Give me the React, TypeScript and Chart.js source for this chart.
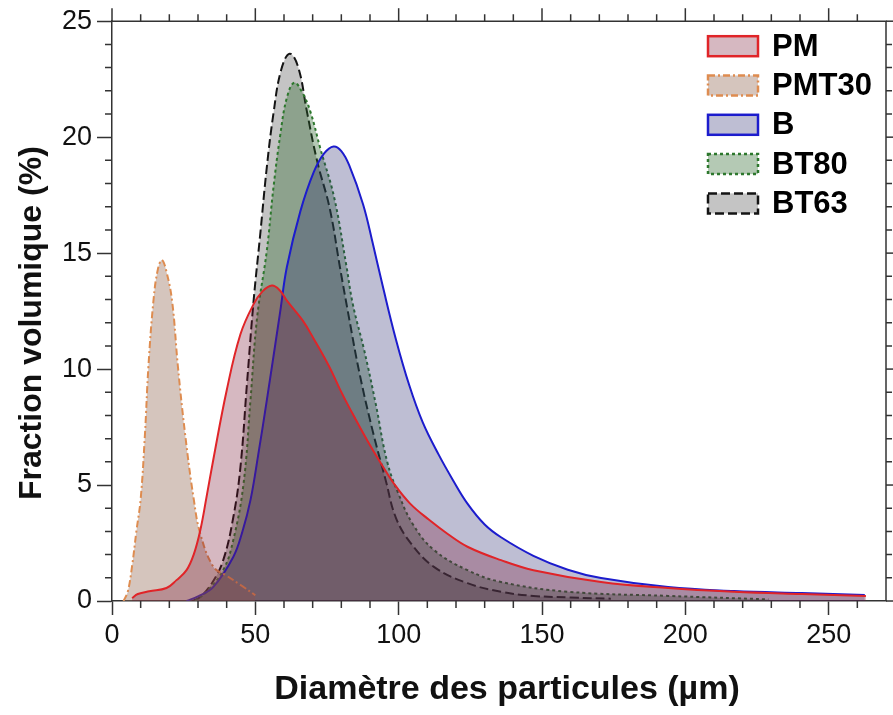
import React, { useEffect, useRef } from "react";
import { Chart, registerables } from "chart.js";

Chart.register(...registerables);

// ---------- data ----------
const seriesNames = ["PM", "PMT30", "B", "BT80", "BT63"];

const pmX = [7, 9, 13, 19, 22.5, 26, 28.5, 30.8, 33, 35.3, 40, 44.8, 49.4, 52.5, 55.8, 58.5, 61, 66.5, 70.4, 75.8, 79.7, 82.7, 89, 94, 99, 104, 110.6, 117, 124, 135.7, 147, 170.6, 194, 217, 240.6, 263];
const pmY = [0.13, 0.3, 0.42, 0.56, 0.9, 1.33, 2.0, 3.05, 4.5, 6.07, 9.08, 11.5, 12.8, 13.35, 13.6, 13.4, 12.95, 12.1, 11.3, 10.1, 9.08, 8.36, 6.93, 5.9, 4.95, 4.2, 3.5, 2.9, 2.34, 1.76, 1.33, 0.82, 0.56, 0.4, 0.3, 0.22];

const pmt30X = [4, 5.5, 7, 8.5, 10, 11.5, 12.7, 14.5, 16, 17.4, 19, 21, 23, 25.5, 28.5, 30.8, 35.4, 40, 45, 50];
const pmt30Y = [0, 0.4, 1.5, 3, 4.4, 7.2, 10.1, 13, 14.3, 14.7, 14.2, 12.9, 10.1, 7.2, 4.4, 2.9, 1.47, 1.09, 0.68, 0.25];

const bX = [26, 30, 35.3, 42.3, 45.5, 48.3, 51, 54, 58.7, 61, 65.7, 70.4, 74, 77.3, 80, 82.7, 87.6, 91, 94.4, 99, 103.7, 108.4, 114, 119, 124, 130, 135.7, 147, 159, 170.6, 194, 217, 240.6, 262.6];
const bY = [0, 0.2, 0.6, 1.9, 3.0, 4.35, 6.3, 8.65, 12.5, 14.4, 16.8, 18.5, 19.3, 19.6, 19.4, 18.8, 17.1, 15.4, 13.6, 11.3, 9.3, 7.7, 6.3, 5.2, 4.2, 3.3, 2.75, 1.95, 1.35, 0.99, 0.6, 0.43, 0.34, 0.26];

const bt80X = [29, 33, 38.8, 42.3, 45.9, 48.3, 50.6, 54, 56.3, 58.7, 61, 63.6, 66.5, 69.2, 72.7, 77.5, 81.7, 84, 88, 92, 96, 100, 105, 112.3, 124, 135.7, 159, 194, 229];
const bt80Y = [0, 0.4, 1.33, 2.62, 5.07, 8.65, 12.2, 15.1, 17.8, 20.1, 21.7, 22.35, 21.9, 21.1, 19.5, 17.4, 14.5, 12.8, 10.8, 8.5, 6.0, 4.6, 3.3, 2.2, 1.33, 0.82, 0.4, 0.22, 0.07];

const bt63X = [28, 30.8, 35, 38.8, 42.3, 44.8, 47.1, 49.4, 51.7, 54, 56.3, 59, 62, 65, 68, 71.5, 76, 79.5, 82.7, 86.2, 90.8, 95.5, 99, 104.2, 112.3, 124, 135.7, 147, 160, 174];
const bt63Y = [0, 0.17, 0.8, 1.76, 3.6, 5.77, 9.4, 12.95, 15.8, 18.7, 21, 22.9, 23.6, 23.0, 21.1, 19, 16.9, 14.4, 12.2, 9.9, 7.4, 5.2, 3.6, 2.5, 1.47, 0.77, 0.4, 0.22, 0.15, 0.1];

const xTicksMajor = [0, 50, 100, 150, 200, 250];
const yTicksMajor = [0, 5, 10, 15, 20, 25];
const xTitle = "Diamètre des particules (µm)";
const yTitle = "Fraction volumique (%)";

// ---------- styles ----------
const FONT = "'Liberation Sans', Arial, Helvetica, sans-serif";
const X_MIN = 0, X_MAX = 270, X_MINOR = 10;
const Y_MIN = 0, Y_MAX = 25, Y_MINOR = 1;

const styles = [
  { border: "rgb(224,36,40)", fill: "rgba(120,20,50,0.30)", dash: [] as number[] },
  { border: "rgb(222,140,80)", fill: "rgba(150,110,90,0.40)", dash: [7, 3, 2, 3] },
  { border: "rgb(28,28,205)", fill: "rgba(40,40,110,0.30)", dash: [] as number[] },
  { border: "rgb(45,120,45)", fill: "rgba(40,100,40,0.35)", dash: [3, 3] },
  { border: "rgb(20,20,20)", fill: "rgba(60,60,60,0.30)", dash: [9, 4] },
];

const toPoints = (xs: number[], ys: number[]) => xs.map((x, i) => ({ x, y: ys[i] }));
const seriesData = [
  toPoints(pmX, pmY),
  toPoints(pmt30X, pmt30Y),
  toPoints(bX, bY),
  toPoints(bt80X, bt80Y),
  toPoints(bt63X, bt63Y),
];

const framePlugin = {
  id: "framePlugin",
  afterDraw(chart: any) {
    const { ctx, chartArea: a, scales } = chart;
    const xs = scales.x;
    const ys = scales.y;
    ctx.save();
    ctx.strokeStyle = "#333";
    ctx.lineWidth = 1.5;
    ctx.setLineDash([]);
    ctx.beginPath();
    ctx.moveTo(a.left, a.top);
    ctx.lineTo(a.right, a.top);
    ctx.lineTo(a.right, a.bottom);
    ctx.stroke();
    for (let v = X_MIN; v < X_MAX; v += X_MINOR) {
      const px = xs.getPixelForValue(v);
      const major = xTicksMajor.includes(v);
      ctx.beginPath();
      if (!major) {
        ctx.moveTo(px, a.bottom);
        ctx.lineTo(px, a.bottom + 7);
      }
      ctx.moveTo(px, a.top);
      ctx.lineTo(px, a.top - (major ? 13 : 7));
      ctx.stroke();
    }
    for (let v = Y_MIN; v <= Y_MAX; v += Y_MINOR) {
      const py = ys.getPixelForValue(v);
      const major = yTicksMajor.includes(v);
      ctx.beginPath();
      if (!major) {
        ctx.moveTo(a.left, py);
        ctx.lineTo(a.left - 7, py);
      }
      ctx.moveTo(a.right, py);
      ctx.lineTo(a.right + (major ? 13 : 6), py);
      ctx.stroke();
    }
    // titles
    ctx.fillStyle = "#111";
    ctx.textAlign = "center";
    ctx.textBaseline = "middle";
    ctx.font = `bold 34px ${FONT}`;
    ctx.fillText(xTitle, (a.left + a.right) / 2 + 8, 690);
    ctx.save();
    ctx.font = `bold 32px ${FONT}`;
    ctx.translate(32, (a.top + a.bottom) / 2 + 12);
    ctx.rotate(-Math.PI / 2);
    ctx.fillText(yTitle, 0, 0);
    ctx.restore();
    // legend
    const lx = a.right - 178;
    const ly = a.top + 15;
    chart.data.datasets.forEach((ds: any, i: number) => {
      const y = ly + i * 39.3;
      ctx.fillStyle = ds.backgroundColor;
      ctx.fillRect(lx, y, 50, 20);
      ctx.strokeStyle = ds.borderColor;
      ctx.lineWidth = 2.5;
      ctx.setLineDash(ds.borderDash || []);
      ctx.strokeRect(lx, y, 50, 20);
      ctx.setLineDash([]);
      ctx.fillStyle = "#000";
      ctx.font = `bold 31px ${FONT}`;
      ctx.textAlign = "left";
      ctx.textBaseline = "middle";
      ctx.fillText(ds.label, lx + 64, y + 11);
    });
    ctx.restore();
  },
};

export default function App() {
  const ref = useRef<HTMLCanvasElement | null>(null);
  useEffect(() => {
    if (!ref.current) return;
    const chart = new Chart(ref.current, {
      type: "line",
      data: {
        datasets: seriesNames.map((name, i) => ({
          label: name,
          data: seriesData[i],
          borderColor: styles[i].border,
          backgroundColor: styles[i].fill,
          borderDash: styles[i].dash,
          borderWidth: 2,
          fill: "origin",
          pointRadius: 0,
          tension: 0.4,
        })),
      },
      options: {
        responsive: false,
        animation: false,
        layout: { padding: { top: 20, right: 7, left: 0, bottom: 0 } },
        plugins: { legend: { display: false }, tooltip: { enabled: false } },
        scales: {
          x: {
            type: "linear",
            min: X_MIN,
            max: X_MAX,
            afterFit: (s: any) => { s.height = 114; },
            afterBuildTicks: (s: any) => { s.ticks = xTicksMajor.map((v) => ({ value: v })); },
            ticks: { font: { size: 27, family: FONT }, color: "#111", padding: 4, maxRotation: 0 },
            grid: { drawOnChartArea: false, drawTicks: true, tickLength: 14, tickColor: "#333", tickWidth: 1.5 },
            border: { display: true, color: "#333", width: 1.5 },
          },
          y: {
            type: "linear",
            min: Y_MIN,
            max: Y_MAX,
            afterFit: (s: any) => { s.width = 112; },
            afterBuildTicks: (s: any) => { s.ticks = yTicksMajor.map((v) => ({ value: v })); },
            ticks: { font: { size: 27, family: FONT }, color: "#111", padding: 5 },
            grid: { drawOnChartArea: false, drawTicks: true, tickLength: 15, tickColor: "#333", tickWidth: 1.5 },
            border: { display: true, color: "#333", width: 1.5 },
          },
        },
      },
      plugins: [framePlugin],
    } as any);
    return () => chart.destroy();
  }, []);
  return (
    <div style={{ position: "absolute", left: 0, top: 0, width: 893, height: 715, background: "#fff" }}>
      <canvas ref={ref} width={893} height={715} style={{ display: "block" }} />
    </div>
  );
}
